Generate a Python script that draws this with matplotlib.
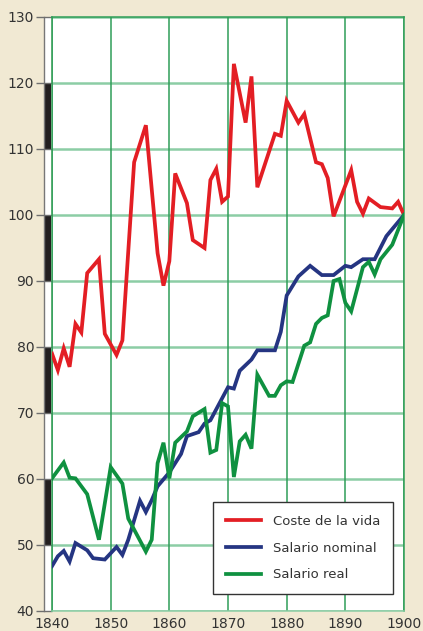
import matplotlib
matplotlib.use("Agg")
import matplotlib.pyplot as plt
from matplotlib.patches import Rectangle
from matplotlib.lines import Line2D

# ---- data ----
coste_years = [1840, 1841, 1842, 1843, 1844, 1845, 1846, 1848, 1849, 1851, 1852, 1854, 1856,
               1858, 1859, 1860, 1861, 1863, 1864, 1866, 1867, 1868, 1869, 1870, 1871, 1873,
               1874, 1875, 1878, 1879, 1880, 1882, 1883, 1885, 1886, 1887, 1888, 1891, 1892,
               1893, 1894, 1896, 1898, 1899, 1900]
coste_vals = [79.0, 76.5, 79.8, 77.0, 83.5, 82.2, 91.2, 93.3, 82.0, 78.8, 81.0, 108.0, 113.6,
              94.2, 89.3, 93.0, 106.3, 101.8, 96.2, 95.0, 105.3, 107.0, 102.0, 102.8, 122.9, 114.0,
              121.0, 104.2, 112.3, 112.0, 117.3, 114.0, 115.3, 108.0, 107.7, 105.6, 99.8, 106.8, 102.0,
              100.2, 102.5, 101.2, 101.0, 102.0, 100.0]

nominal_years = [1840, 1841, 1842, 1843, 1844, 1846, 1847, 1849, 1851, 1852, 1853, 1855, 1856,
                 1857, 1858, 1860, 1862, 1863, 1865, 1866, 1867, 1870, 1871, 1872, 1874, 1875,
                 1878, 1879, 1880, 1882, 1884, 1886, 1888, 1890, 1891, 1893, 1895, 1897, 1900]
nominal_vals = [46.8, 48.3, 49.1, 47.5, 50.3, 49.2, 48.0, 47.8, 49.7, 48.5, 50.8, 56.7, 55.0,
                56.8, 58.9, 61.0, 63.8, 66.5, 67.1, 68.4, 68.9, 73.9, 73.7, 76.4, 78.1, 79.5,
                79.5, 82.3, 87.8, 90.7, 92.3, 90.9, 90.9, 92.3, 92.1, 93.3, 93.3, 96.8, 100.0]

real_years = [1840, 1842, 1843, 1844, 1846, 1848, 1850, 1852, 1853, 1856, 1857, 1858, 1859,
              1860, 1861, 1863, 1864, 1866, 1867, 1868, 1869, 1870, 1871, 1872, 1873, 1874,
              1875, 1877, 1878, 1879, 1880, 1881, 1883, 1884, 1885, 1886, 1887, 1888, 1889,
              1890, 1891, 1893, 1894, 1895, 1896, 1898, 1900]
real_vals = [60.1, 62.5, 60.2, 60.1, 57.7, 50.8, 61.8, 59.3, 54.0, 49.0, 50.8, 62.4, 65.5,
             60.1, 65.5, 67.2, 69.5, 70.6, 64.0, 64.4, 71.5, 71.0, 60.3, 65.7, 66.7, 64.6,
             75.8, 72.6, 72.6, 74.2, 74.8, 74.7, 80.2, 80.7, 83.5, 84.4, 84.8, 90.0, 90.3,
             86.7, 85.4, 92.1, 92.9, 91.0, 93.3, 95.5, 100.0]

labels = ["Coste de la vida", "Salario nominal", "Salario real"]
x_ticks = [1840, 1850, 1860, 1870, 1880, 1890, 1900]
y_ticks = [40, 50, 60, 70, 80, 90, 100, 110, 120, 130]
black_bands = [(50, 60), (70, 80), (90, 100), (110, 120)]

# ---- style ----
BG = "#f1e9d3"
RED = "#e31e24"
BLUE = "#253582"
GREEN = "#0f9140"
HGRID = "#8ccda5"
VGRID = "#2f9e58"

fig = plt.figure(figsize=(4.23, 6.31), dpi=100, facecolor=BG)
W, H = 423, 631
ax = fig.add_axes([52 / W, 20 / H, 352 / W, 594 / H])
ax.set_facecolor("white")

ax.set_xlim(1840, 1900)
ax.set_ylim(40, 130)
ax.set_xticks(x_ticks)
ax.set_yticks(y_ticks)

for y in y_ticks:
    ax.axhline(y, color=HGRID, lw=1.8, zorder=1.2)
for x in x_ticks:
    ax.axvline(x, color=VGRID, lw=1.1, zorder=1.3)

for s in ax.spines.values():
    s.set_color(VGRID)
    s.set_linewidth(1.1)
ax.spines["bottom"].set_color(HGRID)

ax.tick_params(axis="y", length=11.3, width=1.0, color="#6f6f6f", pad=1.5,
               labelsize=10, labelcolor="#333333")
ax.tick_params(axis="x", length=0, pad=4.0, labelsize=10, labelcolor="#333333")

# left scale strip
trans = ax.get_yaxis_transform()
x0 = (44.3 - 52) / 352
x1 = (51.2 - 52) / 352
ax.add_patch(Rectangle((x0, 40), x1 - x0, 90, transform=trans, facecolor="white",
                       edgecolor="none", clip_on=False, zorder=1))
for lo, hi in black_bands:
    ax.add_patch(Rectangle((x0, lo), x1 - x0, hi - lo, transform=trans,
                           facecolor="#231f20", edgecolor="none", clip_on=False, zorder=1))
ax.add_line(Line2D([x0, x0], [40, 130], transform=trans, color="#777777", lw=1.0,
                   clip_on=False, zorder=1.1))

ax.plot(coste_years, coste_vals, color=RED, lw=2.7, label=labels[0], zorder=3,
        solid_joinstyle="miter")
ax.plot(nominal_years, nominal_vals, color=BLUE, lw=2.7, label=labels[1], zorder=3,
        solid_joinstyle="miter")
ax.plot(real_years, real_vals, color=GREEN, lw=2.7, label=labels[2], zorder=3,
        solid_joinstyle="miter")

leg = ax.legend(loc="lower left", bbox_to_anchor=((213 - 52) / 352, (611 - 594) / 594),
                fontsize=9.5, frameon=True, fancybox=False, framealpha=1,
                edgecolor="#333333", handlelength=2.7, handletextpad=0.9,
                labelspacing=1.05, borderpad=0.95, borderaxespad=0)
leg.get_frame().set_linewidth(1.0)
for t in leg.get_texts():
    t.set_color("#333333")

fig.savefig("out.png", dpi=100, facecolor=BG)
